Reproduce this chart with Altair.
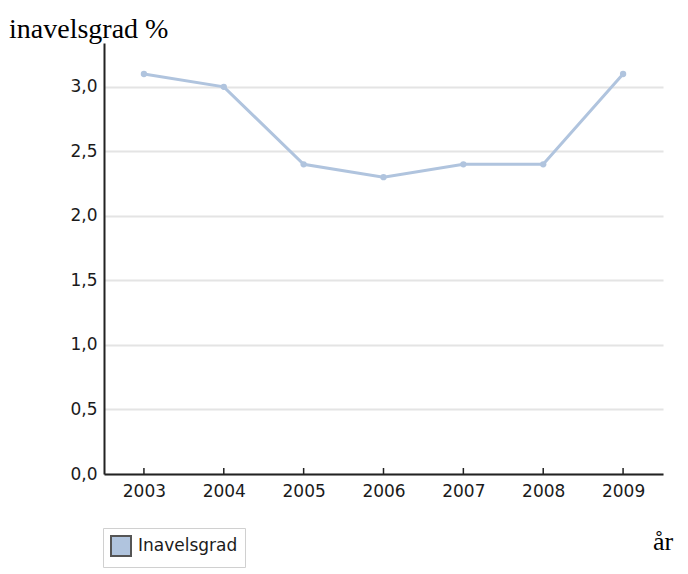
import altair as alt
import pandas as pd

years = ["2003", "2004", "2005", "2006", "2007", "2008", "2009"]
values = [3.1, 3.0, 2.4, 2.3, 2.4, 2.4, 3.1]
series_name = "Inavelsgrad"
y_title_text = "inavelsgrad %"
x_title_text = "år"

df = pd.DataFrame({"year": years, "value": values, "series": [series_name] * len(years)})
W, H = 559, 431

x_enc = alt.X("year:O", scale=alt.Scale(type="point", padding=0.5),
              axis=alt.Axis(title=None, labelAngle=0, tickSize=0, labelPadding=9,
                            labelFontSize=17, labelFont="DejaVu Sans", labelColor="#1b1b1b",
                            domainColor="#222222", domainWidth=2, grid=False))
y_enc = alt.Y("value:Q", scale=alt.Scale(domain=[0, 3.34], nice=False),
              axis=alt.Axis(title=None, values=[0, 0.5, 1, 1.5, 2, 2.5, 3],
                            labelExpr="replace(format(datum.value, '.1f'), '.', ',')",
                            tickSize=0, labelPadding=7, labelFontSize=17,
                            labelFont="DejaVu Sans", labelColor="#1b1b1b",
                            domainColor="#222222", domainWidth=2,
                            gridColor="#e4e4e4", gridWidth=2))

line = alt.Chart(df).mark_line(strokeWidth=3, color="#b0c4de").encode(x=x_enc, y=y_enc)
pts = alt.Chart(df).mark_circle(size=40, opacity=1, color="#b0c4de").encode(x="year:O", y="value:Q")

legend_layer = alt.Chart(df).mark_square(size=0, opacity=1, stroke="#555555", strokeWidth=2).encode(
    x="year:O", y="value:Q",
    fill=alt.Fill("series:N", scale=alt.Scale(range=["#b0c4de"]),
                  legend=alt.Legend(title=None, orient="none", legendX=-1, legendY=485,
                                    symbolType="square", symbolSize=400,
                                    symbolStrokeColor="#555555", symbolStrokeWidth=2,
                                    labelFontSize=17, labelFont="DejaVu Sans",
                                    labelColor="#1b1b1b", strokeColor="#d0d0d0",
                                    padding=7, labelOffset=6)),
)

ticks = alt.Chart(df).mark_rule(color="#222222", strokeWidth=1.5).encode(
    x="year:O", y=alt.value(H - 6), y2=alt.value(H))

tdf = pd.DataFrame({"t": [y_title_text]})
ytitle = alt.Chart(tdf).mark_text(align="left", baseline="alphabetic", font="Liberation Serif",
                                  fontSize=28, color="black").encode(
    x=alt.value(-95), y=alt.value(-5), text="t:N")
xdf = pd.DataFrame({"t": [x_title_text]})
xtitle = alt.Chart(xdf).mark_text(align="left", baseline="alphabetic", font="Liberation Serif",
                                  fontSize=26, color="black").encode(
    x=alt.value(549), y=alt.value(507), text="t:N")

chart = alt.layer(line, pts, legend_layer, ticks, ytitle, xtitle).properties(
    width=W, height=H,
    autosize=alt.AutoSizeParams(type="none"),
    padding={"left": 96, "top": 35, "right": 17, "bottom": 96},
).configure_view(stroke=None)

chart.save("out.html", embed_options={"renderer": "svg", "actions": False})
